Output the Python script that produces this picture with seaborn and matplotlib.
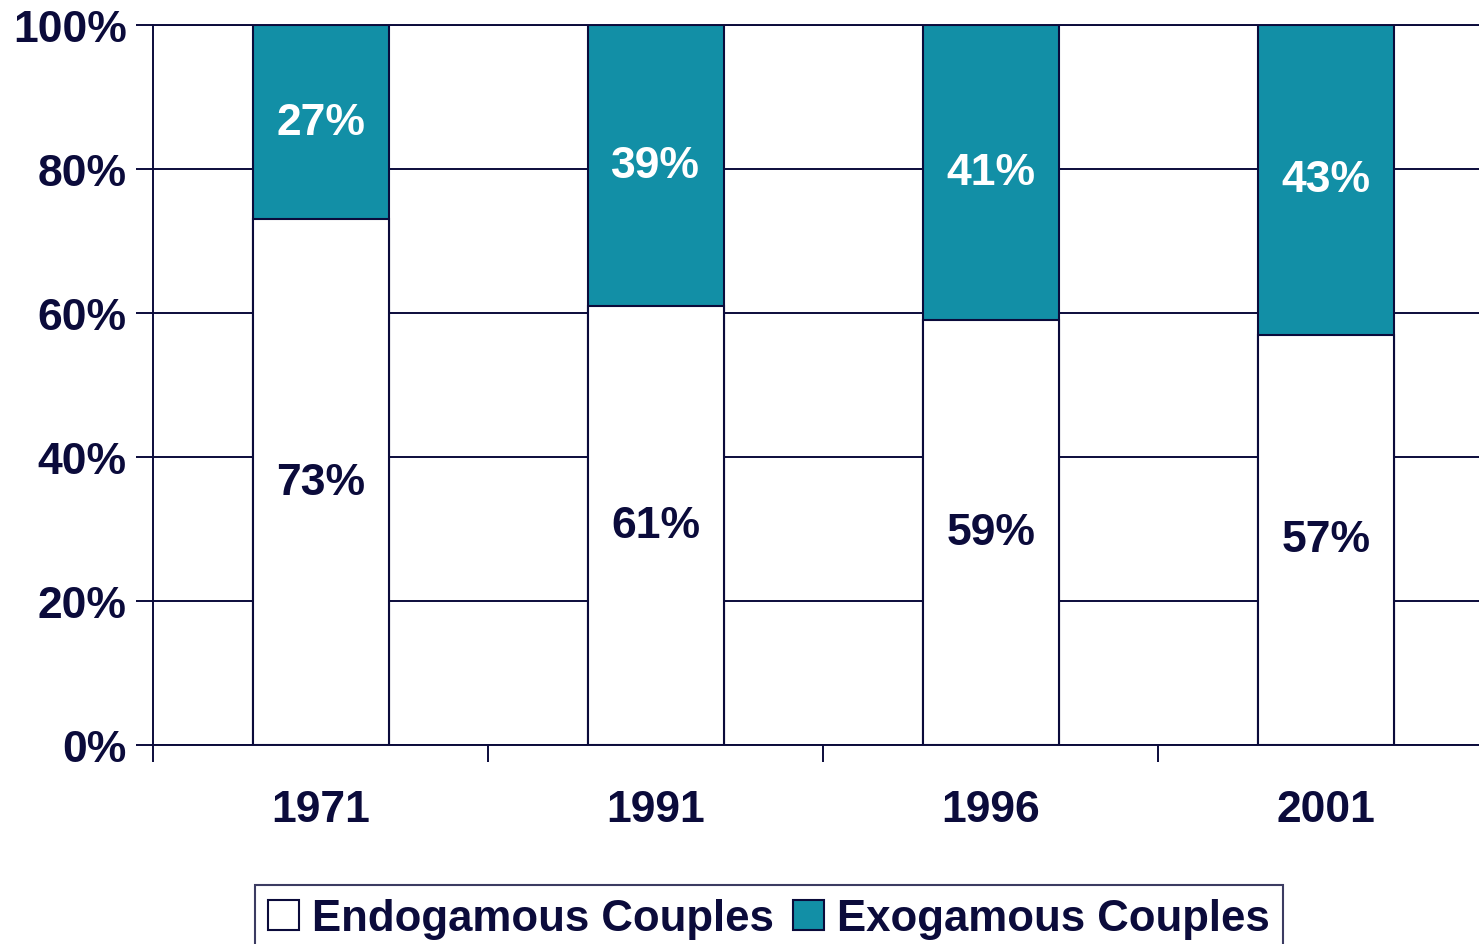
import matplotlib
matplotlib.use("Agg")
import matplotlib.pyplot as plt
from matplotlib.patches import Patch
import seaborn as sns
import pandas as pd

# data
years = ["1971", "1991", "1996", "2001"]
endogamous = [73, 61, 59, 57]
exogamous = [27, 39, 41, 43]
y_ticks = [0, 20, 40, 60, 80, 100]

navy = "#0b0b3b"
teal = "#128fa6"
fs = 32

sns.set_style("white")
plt.rcParams["font.family"] = ["Liberation Sans", "DejaVu Sans"]
plt.rcParams["font.weight"] = "bold"

df = pd.DataFrame({"year": years, "endo": endogamous, "exo": exogamous})
df["total"] = df["endo"] + df["exo"]

fig = plt.figure(figsize=(14.79, 9.45), dpi=100)
ax = fig.add_axes([153 / 1479, 1 - 746 / 945, 1 - 153 / 1479, (746 - 26) / 945])

# full-height teal bars, then white endogamous bars on top
sns.barplot(data=df, x="year", y="total", color=teal, width=0.406,
            edgecolor=navy, linewidth=1.5, saturation=1, ax=ax, zorder=3)
sns.barplot(data=df, x="year", y="endo", color="white", width=0.406,
            edgecolor=navy, linewidth=1.5, saturation=1, ax=ax, zorder=4)

for i, row in df.iterrows():
    ax.text(i, row["endo"] / 2, f"{row['endo']}%", ha="center", va="center",
            fontsize=fs, fontweight="bold", color=navy, zorder=5)
    ax.text(i, row["endo"] + row["exo"] / 2, f"{row['exo']}%", ha="center",
            va="center", fontsize=fs, fontweight="bold", color="white", zorder=5)

ax.set_yticks(y_ticks)
ax.set_yticklabels([f"{v}%" for v in y_ticks])
ax.set_xticks(range(len(years)))
ax.set_xticklabels(years)
ax.set_xticks([i - 0.5 for i in range(len(years) + 1)], minor=True)
ax.set_ylim(0, 100)
ax.set_xlim(-0.5, 3.457)
ax.set_xlabel("")
ax.set_ylabel("")

ax.yaxis.grid(True, color=navy, linewidth=1.4, zorder=1)
ax.set_axisbelow(True)

ax.tick_params(axis="y", direction="out", length=12, width=1.4, color=navy,
               labelsize=fs, labelcolor=navy, pad=7, left=True)
ax.tick_params(axis="x", which="major", length=0, labelsize=fs,
               labelcolor=navy, pad=32)
ax.tick_params(axis="x", which="minor", direction="out", length=12,
               width=1.4, color=navy, bottom=True)
for lab in ax.get_xticklabels() + ax.get_yticklabels():
    lab.set_fontweight("bold")

for side in ["left", "bottom", "top"]:
    ax.spines[side].set_color(navy)
    ax.spines[side].set_linewidth(1.4)
ax.spines["right"].set_visible(False)

handles = [Patch(facecolor="white", edgecolor=navy, linewidth=1.5,
                 label="Endogamous Couples"),
           Patch(facecolor=teal, edgecolor=navy, linewidth=1.5,
                 label="Exogamous Couples")]
leg = fig.legend(handles=handles, loc="upper center", ncol=2,
                 bbox_to_anchor=(769 / 1479, 1 - 886 / 945),
                 prop={"size": 31.5, "weight": "bold"}, frameon=True,
                 fancybox=False, handlelength=0.7, handleheight=0.7,
                 handletextpad=0.3, columnspacing=0.45, borderpad=0.3,
                 borderaxespad=0)
leg.get_frame().set_edgecolor(navy)
leg.get_frame().set_linewidth(1.5)
for t in leg.get_texts():
    t.set_color(navy)

fig.savefig("out.png", dpi=100)
